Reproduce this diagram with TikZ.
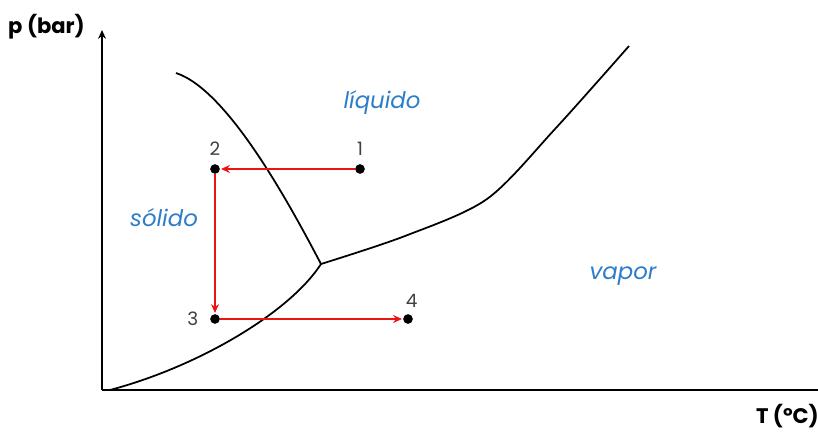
\documentclass[tikz,border=0pt]{standalone}
\usepackage{fontspec}
\setmainfont{Poppins}
\usepackage{tikz}
\usetikzlibrary{arrows.meta,calc}

\definecolor{zona}{RGB}{45,125,200}
\definecolor{camino}{RGB}{235,20,20}

\tikzset{
  punto/.style={circle,fill=black,inner sep=0pt,minimum size=5.5pt},
  num/.style={font=\fontsize{10.5}{12}\selectfont,text=black!75},
  zonatxt/.style={font=\fontsize{13}{15}\selectfont\itshape,text=zona},
  eje/.style={font=\fontsize{12}{14}\selectfont\bfseries},
  curva/.style={line width=1pt},
  flujo/.style={->,camino,line width=0.9pt,shorten >=0.5pt}
}

\begin{document}
\begin{tikzpicture}[x=0.02cm,y=-0.02cm,>={Stealth[length=5pt,width=4.5pt]}]
  \useasboundingbox (0,0) rectangle (818,434);
  \coordinate (O) at (102,390);
  \coordinate (Tr) at (321,264);
  % ejes
  \draw[->,line width=1pt] (O) -- (102,30);
  \draw[line width=1pt] (O) -- (818,390);
  \node[eje,anchor=east] (ejep) at (91,27) {p (bar)};
  \node[eje,anchor=east] (ejet) at (825,416) {T (ºC)};
  % curvas de equilibrio
  \draw[curva] (110,390) .. controls (200,366) and (290,312) .. (Tr);
  \draw[curva] (176,73) .. controls (228,90) and (290,205) .. (Tr);
  \draw[curva] plot[smooth] coordinates
    {(Tr) (405,236) (487,199) (555,129) (629,46)};
  % zonas
  \node[zonatxt] (liq) at (382,103) {líquido};
  \node[zonatxt] (sol) at (164,218) {sólido};
  \node[zonatxt] (vap) at (623,276) {vapor};
  % estados
  \node[punto] (p1) at (360,169) {};
  \node[punto] (p2) at (215,169) {};
  \node[punto] (p3) at (215,319) {};
  \node[punto] (p4) at (408,319) {};
  \node[num,above=1pt] (n1) at (p1.north) {1};
  \node[num,above=1pt] (n2) at (p2.north) {2};
  \node[num,left=3pt] (n3) at (p3.west) {3};
  \node[num,above=1pt] (n4) at (p4.north east) {4};
  \draw[flujo] (p1) -- (p2);
  \draw[flujo] (p2) -- (p3);
  \draw[flujo] (p3) -- (p4);
\end{tikzpicture}
\end{document}
